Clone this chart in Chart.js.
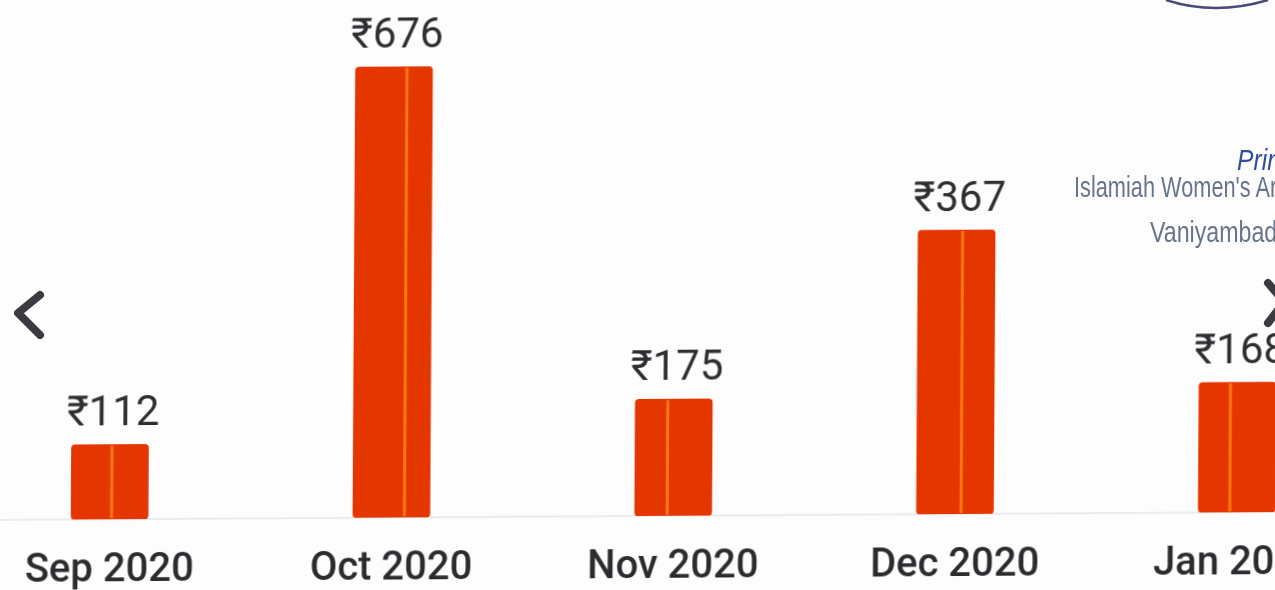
<!DOCTYPE html>
<html>
<head>
<meta charset="utf-8">
<script src="https://cdn.jsdelivr.net/npm/chart.js@4"></script>
<style>
    html, body { margin: 0; padding: 0; width: 1275px; height: 590px; overflow: hidden; background: #fdfdfd; }
    /* photo of a page: slight tilt and shear, slightly soft */
    #wrap { position: absolute; left: -30px; top: 0; width: 1409px; height: 590px; transform: matrix(1, -0.0062, -0.006, 1, 0, 0); transform-origin: 670px 295px; filter: blur(0.5px); }
    .stamp { position: absolute; white-space: nowrap; font-family: "Liberation Sans", sans-serif; font-size: 29px; color: #68748a; transform-origin: 0 0; filter: blur(0.5px); }
    #marks { position: absolute; left: 0; top: 0; filter: blur(0.5px); }
</style>
</head>
<body>
<div id="wrap"><canvas id="earningsChart"></canvas></div>
<svg id="marks" width="1275" height="590">
    <polyline points="40,295 18,313 40,335" fill="none" stroke="#3a3a40" stroke-width="8" stroke-linecap="round" stroke-linejoin="round"/>
    <polyline points="1268,283 1280,297" fill="none" stroke="#3a3a40" stroke-width="8" stroke-linecap="round"/>
    <polyline points="1278,310 1268,323" fill="none" stroke="#3a3a40" stroke-width="8" stroke-linecap="round"/>
    <path d="M1166,0 Q1215,16 1268,0" fill="none" stroke="#4a4a78" stroke-width="2.5"/>
</svg>
<div class="stamp" style="left:1237px;top:144px;font-style:italic;color:#2f4f9c;transform:scaleX(0.85)">Prin</div>
<div class="stamp" style="left:1074px;top:171px;transform:scaleX(0.75)">Islamiah Women's Ar</div>
<div class="stamp" style="left:1150px;top:216px;transform:scaleX(0.8)">Vaniyambad</div>
<script>
// earnings per month
const months = ['Sep 2020', 'Oct 2020', 'Nov 2020', 'Dec 2020', 'Jan 2021'];
// printed above the bars
const printedAmounts = [112, 676, 175, 367, 168];
// bar heights as they stand in the photo (Dec and Jan are drawn taller than their printed amount)
const barHeights = [112, 676, 175, 426, 195];
const currency = '₹';

const barColor = '#e63600';
const seamColor = 'rgba(255, 130, 20, 0.85)';
const seamOffsets = [2, 13, -6, 6, -7];

// value above each bar + the lighter seam down the bar
const barExtras = {
    id: 'barExtras',
    afterDatasetsDraw(chart) {
        const c = chart.ctx;
        chart.getDatasetMeta(0).data.forEach((bar, i) => {
            c.save();
            c.strokeStyle = seamColor;
            c.lineWidth = 3;
            c.beginPath();
            c.moveTo(bar.x + seamOffsets[i], bar.y + 1);
            c.lineTo(bar.x + seamOffsets[i], bar.base - 1);
            c.stroke();
            c.fillStyle = '#2f2f33';
            c.font = '42px Roboto, "DejaVu Sans", sans-serif';
            c.textAlign = 'center';
            c.textBaseline = 'bottom';
            c.fillText(currency + printedAmounts[i], bar.x + 3, bar.y - 9);
            c.restore();
        });
    }
};

new Chart(document.getElementById('earningsChart'), {
    type: 'bar',
    data: {
        labels: months,
        datasets: [{
            data: barHeights,
            backgroundColor: barColor,
            barThickness: 77,
            borderRadius: 4,
            borderSkipped: false
        }]
    },
    options: {
        responsive: true,
        maintainAspectRatio: false,
        animation: false,
        layout: { padding: 0 },
        plugins: { legend: { display: false }, tooltip: { enabled: false } },
        scales: {
            x: {
                afterFit: scale => { scale.height = 74; },
                grid: { display: false },
                border: { color: '#ececec', width: 2 },
                ticks: {
                    color: '#2c2c30',
                    font: { family: 'Roboto', size: 40, weight: '500' },
                    maxRotation: 0,
                    autoSkip: false,
                    padding: 20
                }
            },
            y: { display: false, min: 0, max: 774 }
        }
    },
    plugins: [barExtras]
});
</script>
</body>
</html>
